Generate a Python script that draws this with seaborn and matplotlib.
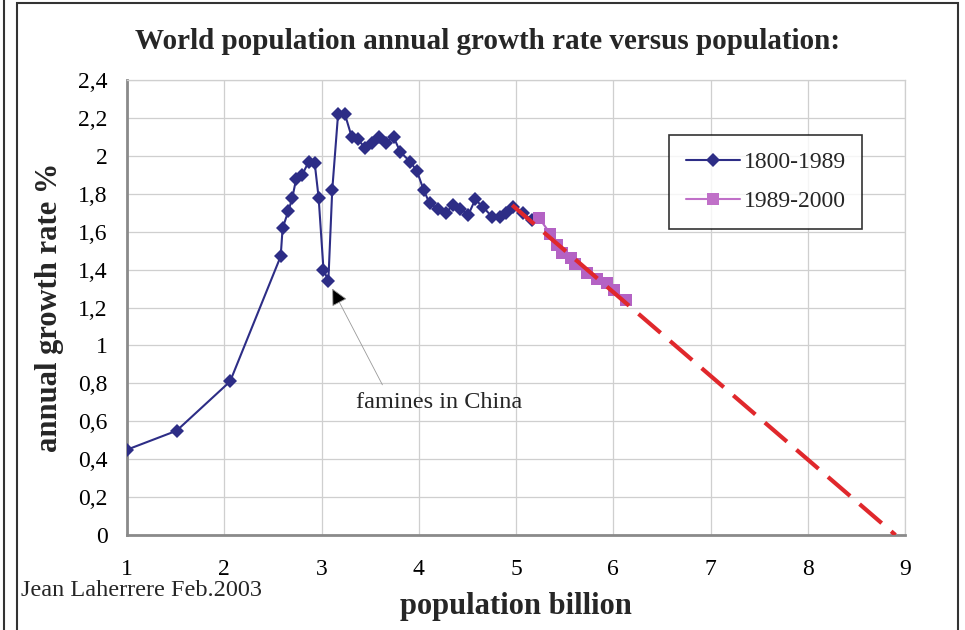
import matplotlib
matplotlib.use("Agg")
import matplotlib.pyplot as plt
import seaborn as sns
import pandas as pd
from matplotlib.patches import Rectangle
from matplotlib.lines import Line2D

# population (billion) and annual growth rate (%)
pop_1800 = [1.00, 1.51, 2.06, 2.58, 2.60, 2.66, 2.70, 2.74, 2.80, 2.87, 2.93, 2.97,
            3.02, 3.07, 3.11, 3.17, 3.24, 3.31, 3.37, 3.45, 3.52, 3.59, 3.66, 3.74,
            3.81, 3.91, 3.98, 4.05, 4.11, 4.20, 4.28, 4.35, 4.42, 4.51, 4.58, 4.66,
            4.75, 4.83, 4.90, 4.97, 5.07, 5.16]
rate_1800 = [0.45, 0.55, 0.81, 1.47, 1.62, 1.71, 1.78, 1.88, 1.90, 1.97, 1.96, 1.78,
             1.40, 1.34, 1.82, 2.22, 2.22, 2.10, 2.09, 2.04, 2.07, 2.10, 2.07, 2.10,
             2.02, 1.97, 1.92, 1.82, 1.75, 1.72, 1.70, 1.74, 1.72, 1.69, 1.77, 1.73,
             1.68, 1.68, 1.70, 1.73, 1.70, 1.66]

pop_1989 = [5.24, 5.35, 5.42, 5.47, 5.56, 5.61, 5.73, 5.83, 5.93, 6.01, 6.13]
rate_1989 = [1.67, 1.59, 1.53, 1.49, 1.46, 1.43, 1.38, 1.35, 1.33, 1.29, 1.24]

trend_pop = [4.96, 8.90]
trend_rate = [1.74, 0.00]

x_ticks = [1, 2, 3, 4, 5, 6, 7, 8, 9]
y_ticks = [0, 0.2, 0.4, 0.6, 0.8, 1, 1.2, 1.4, 1.6, 1.8, 2, 2.2, 2.4]
y_labels = ["0", "0,2", "0,4", "0,6", "0,8", "1", "1,2", "1,4", "1,6", "1,8", "2", "2,2", "2,4"]

navy = "#2d2d86"
purple = "#b462c4"
red = "#e0282c"

sns.set_theme(style="white")
plt.rcParams["font.family"] = ["Liberation Serif", "DejaVu Serif"]

df1 = pd.DataFrame({"pop": pop_1800, "rate": rate_1800})
df2 = pd.DataFrame({"pop": pop_1989, "rate": rate_1989})
df3 = pd.DataFrame({"pop": trend_pop, "rate": trend_rate})

fig = plt.figure(figsize=(9.65, 6.3), dpi=100)
ax = fig.add_axes([0.1316, 0.1508, 0.8064, 0.7222])

sns.lineplot(data=df1, x="pop", y="rate", ax=ax, color=navy, lw=1.5, marker="D",
             markersize=7, markeredgewidth=0, sort=False, estimator=None, zorder=3)
sns.lineplot(data=df2, x="pop", y="rate", ax=ax, color=purple, lw=1.5, marker="s",
             markersize=9, markeredgewidth=0, sort=False, estimator=None, zorder=4)
sns.lineplot(data=df3, x="pop", y="rate", ax=ax, color=red, lw=3, sort=False,
             estimator=None, zorder=5, dashes=False)
ax.lines[-1].set_dashes((7, 3))

ax.set_xlim(1, 9)
ax.set_ylim(0, 2.4)
ax.set_xticks(x_ticks)
ax.set_yticks(y_ticks)
ax.set_yticklabels(y_labels)
ax.tick_params(axis="both", labelsize=17, colors="black", length=0)
ax.tick_params(axis="y", pad=14)
ax.tick_params(axis="x", pad=17)
ax.grid(True, color="#cfcfcf", lw=0.9)
ax.set_axisbelow(True)
for s in ["top", "right"]:
    ax.spines[s].set_color("#cfcfcf")
    ax.spines[s].set_linewidth(0.9)
for s in ["left", "bottom"]:
    ax.spines[s].set_color("#8a8a8a")
    ax.spines[s].set_linewidth(2)

ax.set_xlabel("population billion", fontsize=22, fontweight="bold", labelpad=9)
ax.set_ylabel("annual growth rate %", fontsize=22, fontweight="bold", labelpad=10)

ax.annotate("famines in China", xy=(3.11, 1.30), xytext=(4.21, 0.70),
            fontsize=17.5, ha="center", va="center",
            arrowprops=dict(arrowstyle="-|>", ec="#999999", fc="black", lw=0.6,
                            mutation_scale=26, relpos=(0.18, 1.0),
                            shrinkA=3, shrinkB=0))

handles = [Line2D([], [], color=navy, lw=1.5, marker="D", markersize=7, markeredgewidth=0),
           Line2D([], [], color="#c070c8", lw=1.5, marker="s", markersize=8, markeredgewidth=0)]
leg = ax.legend(handles, ["1800-1989", "1989-2000"], loc="upper right",
                bbox_to_anchor=(0.945, 0.879), fontsize=17, frameon=True, fancybox=False,
                handlelength=2.3, handletextpad=0.15, borderpad=0.7, labelspacing=0.75,
                borderaxespad=0)
leg.get_frame().set_edgecolor("black")
leg.get_frame().set_linewidth(1.2)

fig.text(0.505, 0.934, "World population annual growth rate versus population:",
         ha="center", va="center", fontsize=21, fontweight="bold")
fig.text(0.022, 0.062, "Jean Laherrere Feb.2003", ha="left", va="center", fontsize=17.5)

# outer frame
fig.patches.append(Rectangle((17 / 965, -0.01), 941 / 965, 1.005, transform=fig.transFigure,
                             fill=False, edgecolor="#333333", lw=1.5))
fig.lines.append(Line2D([4 / 965, 4 / 965], [0, 1], transform=fig.transFigure,
                        color="#333333", lw=1.5))

fig.savefig("out.png", dpi=100)
